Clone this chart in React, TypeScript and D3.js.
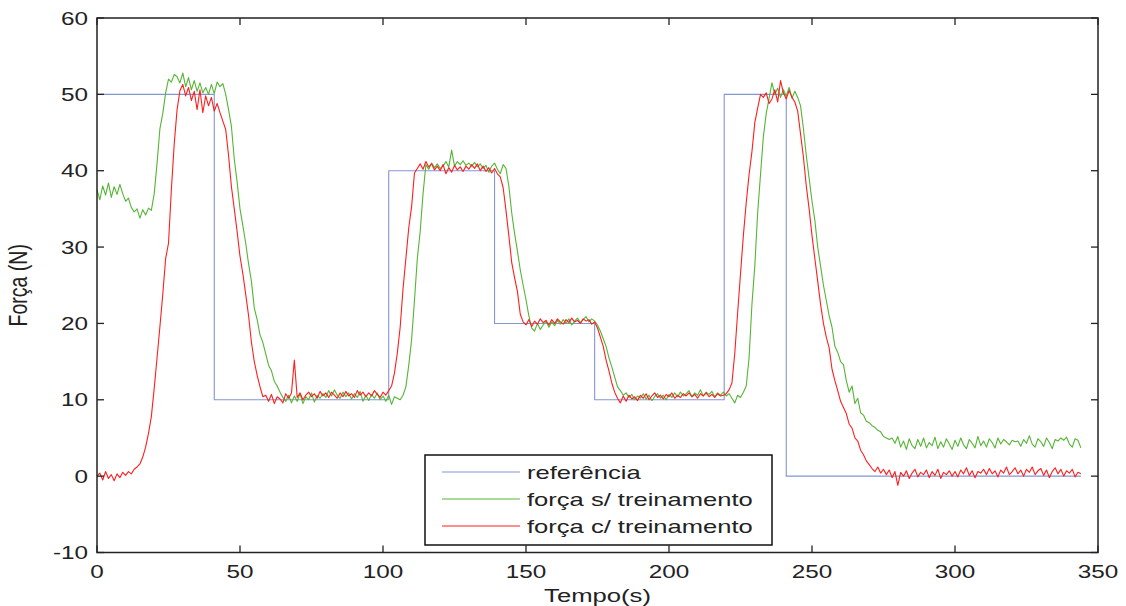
import React from "react";
import * as d3 from "d3";

// Force control test: reference profile and measured force, sampled every 1 s
const sampleStep = 1;

const refTimes = [0, 41, 41, 102, 102, 139, 139, 174, 174, 219.3, 219.3, 241, 241, 344];
const refValues = [50, 50, 10, 10, 40, 40, 20, 20, 10, 10, 50, 50, 0, 0];

// força sem treinamento
const forceUntrained = [
  37.5, 36.2, 38.0, 36.8, 38.4, 36.5, 37.9, 36.9, 38.2, 37.0,
  36.0, 36.4, 35.2, 34.6, 35.0, 33.8, 34.9, 34.2, 35.1, 34.8,
  37.0, 41.0, 45.5, 47.5, 50.2, 52.0, 51.6, 52.6, 52.3, 51.5,
  52.8, 51.0, 52.2, 50.6, 51.8, 50.4, 51.5, 50.2, 50.9, 50.0,
  51.3, 50.1, 51.6, 51.0, 51.4, 50.0, 48.0, 45.8, 41.5, 38.5,
  35.0, 32.8, 30.5, 27.8, 25.5, 22.0, 20.5, 18.5, 17.5, 16.0,
  14.5, 13.8, 12.4, 11.8, 11.0, 10.3, 9.8, 10.6, 9.6, 10.5,
  9.8, 10.8, 9.5, 10.4, 10.0, 10.9, 9.7, 10.6, 10.2, 10.8,
  10.3, 11.2, 10.5, 11.3, 10.6, 10.2, 11.0, 10.4, 10.9, 10.1,
  10.8, 10.3, 11.1, 9.8, 10.6, 9.9, 10.7, 10.2, 10.9, 10.0,
  10.5, 9.8, 10.6, 9.4, 10.4, 10.2, 10.0, 10.6, 11.7, 14.5,
  17.9, 23.0, 28.5, 32.0, 37.0, 40.8, 40.2, 41.0, 40.4, 40.9,
  40.3, 40.6, 41.2, 40.5, 42.7, 40.6, 41.2, 40.8, 41.3, 40.7,
  41.0, 40.6, 41.1, 40.5, 40.9, 40.3, 40.7, 39.8, 40.6, 41.0,
  40.2, 39.6, 40.8, 40.3, 38.0, 34.5, 31.8, 29.5, 27.0, 25.0,
  23.1, 21.0, 19.4, 19.0, 20.0, 19.2, 19.8, 20.3, 19.5, 20.2,
  19.7, 20.4, 19.9, 20.5, 20.0, 20.6, 19.8, 20.3, 20.7, 20.1,
  20.5, 20.9, 20.2, 20.6, 20.3, 19.8, 19.0, 18.0, 17.0, 15.5,
  14.3, 13.0, 11.7, 11.2, 10.6, 10.9, 10.3, 10.7, 10.0, 10.5,
  10.2, 10.8, 10.1, 10.6, 9.9, 10.4, 10.8, 10.2, 10.6, 10.0,
  10.7, 10.3, 10.9, 10.4, 11.0, 10.5, 10.8, 11.2, 10.4, 10.9,
  10.6, 11.3, 10.5, 11.0, 10.7, 11.1, 10.4, 10.9, 10.6, 11.0,
  10.5, 10.8, 10.2, 9.6, 10.6, 10.3, 11.0, 11.8, 15.5, 22.5,
  27.5, 34.5, 39.5, 44.5, 47.5, 49.5, 51.5, 50.0, 50.8, 49.6,
  50.6, 49.8, 50.9, 49.5, 50.4, 49.6, 48.5, 45.5, 42.0, 39.0,
  36.0, 33.5, 30.0, 27.5, 25.0, 23.0, 21.0, 19.5, 17.0, 16.2,
  15.0, 14.6, 12.5, 11.0, 11.8, 9.5, 10.2, 8.3, 8.0, 7.2,
  7.0, 6.6, 6.4, 6.0, 5.8, 5.2, 5.0, 4.8, 5.0, 4.3,
  5.2, 3.8, 4.6, 3.5, 4.9, 4.0, 3.6, 4.8, 3.9, 5.0,
  3.7, 4.4, 4.0, 5.1, 3.6, 4.5, 3.8, 4.9, 4.2, 3.5,
  4.7, 3.9, 5.0, 4.1, 3.6, 4.8, 4.3, 3.7, 5.2, 4.0,
  4.6, 3.8, 4.9, 4.4, 3.7, 5.0, 4.2, 4.8, 4.5, 4.1,
  4.7, 4.5, 4.6, 3.9, 4.8, 4.3, 5.3, 4.2, 3.8, 4.9,
  4.5, 3.9, 5.0, 4.4, 3.6, 4.8, 4.6, 5.0, 4.7, 5.1,
  4.2, 3.8, 4.9, 4.7, 3.7,
];

// força com treinamento
const forceTrained = [
  0.0, 0.4, -0.5, 0.6, -0.3, 0.2, -0.6, 0.3, -0.2, 0.5,
  0.1, 0.6, 0.3, 0.9, 1.2, 1.6, 2.5, 3.8, 5.6, 7.8,
  11.5, 15.5, 19.6, 23.8, 28.5, 30.5, 37.5, 43.5, 48.0, 50.5,
  51.3, 49.8, 50.9, 49.2, 50.4, 48.0, 50.6, 47.6, 49.8, 48.5,
  49.6, 47.8, 48.8, 47.6, 46.5, 45.4, 42.0, 37.9, 35.0, 32.0,
  28.8, 26.5, 23.8, 21.0, 17.5, 15.0, 13.2, 11.7, 10.4, 10.6,
  9.8, 10.7, 9.5, 10.4, 10.1, 9.6, 10.8, 10.2, 10.9, 15.2,
  10.3, 10.9, 10.0, 10.6, 11.0, 10.4, 10.8, 10.2, 11.1, 10.5,
  10.9, 10.3, 11.0, 10.6, 10.2, 10.9, 10.4, 11.1, 10.5, 10.8,
  10.3, 11.2, 10.6, 11.0, 10.4, 10.9, 10.5, 11.2, 10.7, 10.3,
  11.0, 10.6, 11.2, 11.8, 13.5, 16.1, 19.5, 24.5, 28.5, 32.5,
  35.3, 39.7, 40.3, 40.9, 40.2, 41.2, 40.5, 40.9, 40.1, 40.6,
  40.0, 40.8, 39.6, 40.4, 39.8, 40.7, 40.1, 40.5, 39.9, 40.6,
  40.2, 40.8, 40.3, 40.9, 40.0, 40.6, 39.9, 40.4, 39.7, 40.3,
  39.6, 39.2, 37.8, 34.8, 31.5, 28.0, 26.0, 24.2, 21.2, 20.2,
  19.8, 20.5, 19.6, 20.3, 19.9, 20.6, 20.1, 20.4, 19.8, 20.5,
  20.0, 20.6, 20.2, 19.9, 20.5, 20.1, 20.7, 20.2, 20.4, 20.0,
  20.6, 20.3, 20.5, 19.9, 20.2, 19.4, 18.2, 17.0, 15.2, 13.8,
  12.2, 11.0, 10.2, 9.6, 10.5, 9.8, 10.6, 10.1, 10.4, 9.9,
  10.6, 10.2, 10.8, 10.0, 10.5, 10.9, 10.3, 10.6, 10.1, 10.7,
  10.4, 10.9, 10.2, 10.6, 10.3, 10.8, 10.5, 10.9, 10.4, 10.7,
  10.2, 10.8, 10.5, 10.9, 10.4, 10.7, 10.3, 10.8, 10.5, 10.6,
  10.8, 11.3, 12.2, 16.1, 21.4, 26.5, 31.5, 35.8, 39.5, 42.5,
  46.3, 48.2, 50.0, 49.6, 50.2, 48.8, 49.4, 50.6, 49.0, 51.8,
  50.2, 49.4, 50.5, 49.6, 49.0, 47.8, 44.8, 41.8, 38.0, 35.0,
  31.5, 28.5, 25.5, 22.5, 20.0, 18.2, 16.8, 14.0, 12.5, 11.2,
  9.8, 9.0, 8.2, 6.8, 6.3, 5.0, 4.6, 3.4, 2.8, 2.0,
  1.5, 1.0, 0.6, 1.2, 0.4, 0.9, 0.2, 0.8, -0.2, 0.6,
  -1.2, 0.5, 0.0, 0.7, -0.3, 0.4, 0.9, -0.1, 0.5, 0.2,
  0.8, -0.2, 0.6, 0.1, 0.9, -0.3, 0.5, 0.2, 0.7, 0.0,
  0.6, -0.1, 0.8, 0.3, 1.1, 0.1, 0.7, -0.2, 0.6, 0.4,
  0.9, 0.2, 1.0, 0.3, 0.7, -0.1, 0.8, 0.4, 1.2, 0.2,
  0.6, 1.1, 0.3, 0.8, 0.0, 0.9, 0.5, 1.2, 0.2, 0.7,
  1.0, 0.1, 0.8, -0.2, 0.6, 1.1, 0.3, 0.9, 0.0, 0.7,
  0.4, 0.9, -0.1, 0.5, 0.3,
];

const xTicks = [0, 50, 100, 150, 200, 250, 300, 350];
const yTicks = [-10, 0, 10, 20, 30, 40, 50, 60];

const legendLabels = ["referência", "força s/ treinamento", "força c/ treinamento"];

const colors = {
  ref: "#8496d2",
  untrained: "#55b535",
  trained: "#ff1e1e",
};

const W = 1126;
const H = 606;
const left = 97;
const right = 1098;
const top = 18;
const bottom = 552.5;
const font = "'Liberation Sans', Arial, sans-serif";
const stretch = 1.35;

export default function App() {
  const x = d3.scaleLinear().domain([0, 350]).range([left, right]);
  const y = d3.scaleLinear().domain([-10, 60]).range([bottom, top]);

  const line = d3
    .line<[number, number]>()
    .x((d) => x(d[0]))
    .y((d) => y(d[1]));

  const refPts: [number, number][] = refTimes.map((t, i) => [t, refValues[i]]);
  const untrainedPts: [number, number][] = forceUntrained.map((v, i) => [i * sampleStep, v]);
  const trainedPts: [number, number][] = forceTrained.map((v, i) => [i * sampleStep, v]);

  const tickLen = 7;
  const legendX = 425;
  const legendY = 455;
  const legendW = 347;
  const legendH = 90;
  const legendColors = [colors.ref, colors.untrained, colors.trained];
  const rowY = [472, 499, 526];

  return (
    <svg
      width={W}
      height={H}
      style={{ position: "absolute", left: 0, top: 0, background: "#fff" }}
      fontFamily={font}
    >
      <rect x={0} y={0} width={W} height={H} fill="#fff" />

      {/* data */}
      <g fill="none" strokeLinejoin="round">
        <path d={line(refPts) || ""} stroke={colors.ref} strokeWidth={1.1} />
        <path d={line(untrainedPts) || ""} stroke={colors.untrained} strokeWidth={1.1} />
        <path d={line(trainedPts) || ""} stroke={colors.trained} strokeWidth={1.1} />
      </g>

      {/* axes box and ticks */}
      <rect
        x={left}
        y={top}
        width={right - left}
        height={bottom - top}
        fill="none"
        stroke="#222"
        strokeWidth={1.5}
      />
      <g stroke="#222" strokeWidth={1.3}>
        {xTicks.map((t) => (
          <g key={"xt" + t}>
            <line x1={x(t)} x2={x(t)} y1={bottom} y2={bottom - tickLen} />
            <line x1={x(t)} x2={x(t)} y1={top} y2={top + tickLen} />
          </g>
        ))}
        {yTicks.map((t) => (
          <g key={"yt" + t}>
            <line x1={left} x2={left + tickLen} y1={y(t)} y2={y(t)} />
            <line x1={right} x2={right - tickLen} y1={y(t)} y2={y(t)} />
          </g>
        ))}
      </g>

      {/* tick labels */}
      <g fill="#222" fontSize={18}>
        {xTicks.map((t) => (
          <text
            key={"xl" + t}
            transform={`translate(${x(t)},${bottom + 25}) scale(${stretch},1)`}
            textAnchor="middle"
          >
            {t}
          </text>
        ))}
        {yTicks.map((t) => (
          <text
            key={"yl" + t}
            transform={`translate(${left - 9},${y(t) + 6.5}) scale(${stretch},1)`}
            textAnchor="end"
          >
            {t}
          </text>
        ))}
      </g>

      {/* axis titles */}
      <text
        transform={`translate(${(left + right) / 2},${H - 4}) scale(${stretch},1)`}
        textAnchor="middle"
        fontSize={19}
        fill="#222"
      >
        Tempo(s)
      </text>
      <text
        transform={`translate(27,${(top + bottom) / 2}) scale(${stretch},1) rotate(-90)`}
        textAnchor="middle"
        fontSize={19.5}
        fill="#222"
      >
        Força (N)
      </text>

      {/* legend */}
      <g>
        <rect
          x={legendX}
          y={legendY}
          width={legendW}
          height={legendH}
          fill="#fff"
          stroke="#111"
          strokeWidth={1.5}
        />
        {legendLabels.map((label, i) => (
          <g key={label}>
            <line
              x1={442}
              x2={520}
              y1={rowY[i]}
              y2={rowY[i]}
              stroke={legendColors[i]}
              strokeWidth={1.1}
            />
            <text
              transform={`translate(527,${rowY[i] + 6.5}) scale(1.42,1)`}
              fontSize={18}
              fill="#222"
            >
              {label}
            </text>
          </g>
        ))}
      </g>
    </svg>
  );
}
